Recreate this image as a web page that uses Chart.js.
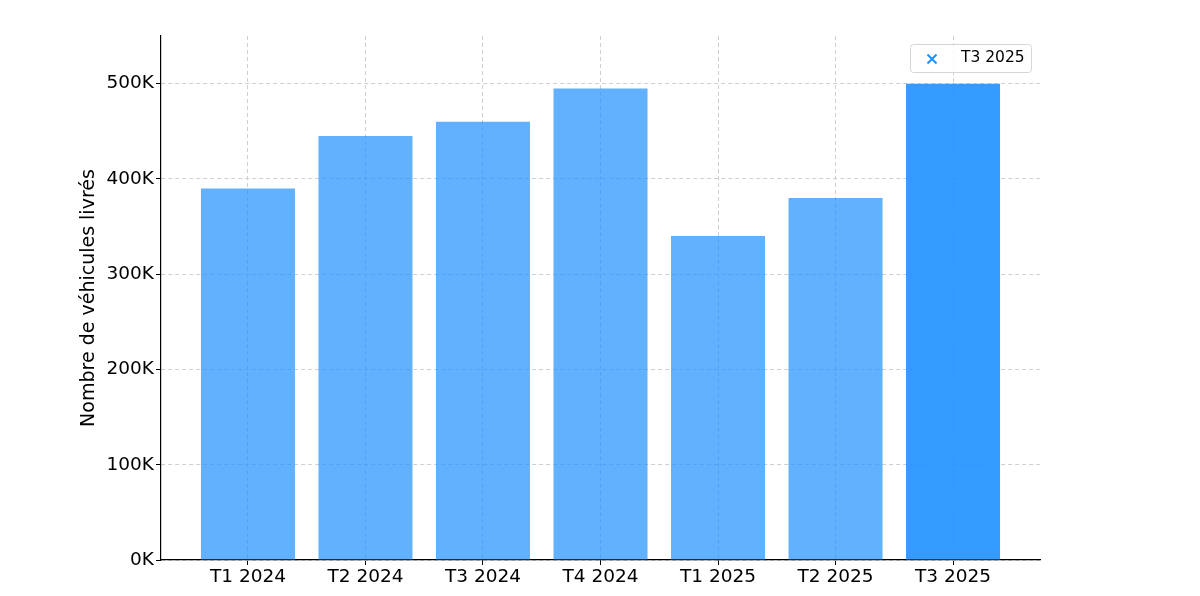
<!DOCTYPE html>
<html>
<head>
<meta charset="utf-8">
<script src="https://cdn.jsdelivr.net/npm/chart.js@4"></script>
<style>
  html, body { margin: 0; padding: 0; background: #fff; }
  #wrap { width: 1200px; height: 596px; }
</style>
</head>
<body>
<div id="wrap"><canvas id="chart-livraisons"></canvas></div>
<script>
"use strict"

// trimestres et livraisons (véhicules)
var trimestres = ['T1 2024', 'T2 2024', 'T3 2024', 'T4 2024', 'T1 2025', 'T2 2025', 'T3 2025']
var livraisons = [390000, 445000, 460000, 495000, 340000, 380000, 500000]
var yTicks = [0, 100000, 200000, 300000, 400000, 500000]
var legende = 'T3 2025'

var bleu = 'rgba(30,144,255,0.7)'
var bleuFort = 'rgba(30,144,255,0.9)'
var police = "'DejaVu Sans', sans-serif"

Chart.defaults.font.family = police
Chart.defaults.color = '#000'

// petite légende encadrée en haut à droite
var legendeBox = {
    id: 'legendeBox',
    afterDraw: function (chart) {
        var c = chart.ctx
        var a = chart.chartArea
        var x = a.right - 130, y = a.top + 8, w = 121, h = 28
        c.save()
        c.fillStyle = 'rgba(255,255,255,0.85)'
        c.strokeStyle = '#d6d6d6'
        c.lineWidth = 1
        c.beginPath()
        c.roundRect(x + 0.5, y + 0.5, w, h, 3)
        c.fill()
        c.stroke()
        var mx = x + 22, my = y + h / 2 + 1
        c.strokeStyle = 'rgb(30,144,255)'
        c.lineWidth = 2
        c.beginPath()
        c.moveTo(mx - 4.5, my - 4.5); c.lineTo(mx + 4.5, my + 4.5)
        c.moveTo(mx + 4.5, my - 4.5); c.lineTo(mx - 4.5, my + 4.5)
        c.stroke()
        c.fillStyle = '#000'
        c.font = '15.5px ' + police
        c.textBaseline = 'middle'
        c.fillText(legende, x + 51, y + h / 2)
        c.restore()
    }
}

var ctx = document.getElementById('chart-livraisons').getContext('2d')
var chartLivraisons = new Chart(ctx, {
    type: 'bar',
    data: {
        datasets: [{
            label: legende,
            data: livraisons.map(function (v, i) { return { x: i, y: v } }),
            backgroundColor: livraisons.map(function (v, i) {
                return i === livraisons.length - 1 ? bleuFort : bleu
            }),
            borderWidth: 0,
            categoryPercentage: 1,
            barPercentage: 0.8
        }]
    },
    options: {
        responsive: true,
        maintainAspectRatio: false,
        animation: false,
        layout: {
            padding: { left: 78, top: 36, right: 160, bottom: 0 }
        },
        plugins: {
            tooltip: { enabled: false },
            legend: { display: false }
        },
        scales: {
            x: {
                type: 'linear',
                offset: false,
                min: -0.74,
                max: 6.74,
                afterBuildTicks: function (axis) {
                    axis.ticks = trimestres.map(function (t, i) { return { value: i } })
                },
                afterFit: function (axis) { axis.height = 36 },
                ticks: {
                    font: { size: 18.5 },
                    padding: 1,
                    callback: function (v) { return trimestres[v] }
                },
                grid: {
                    offset: false,
                    color: '#cfcfcf',
                    tickColor: '#000',
                    tickLength: 5,
                    tickBorderDash: []
                },
                border: { color: '#000', width: 1.2, dash: [4, 3] }
            },
            y: {
                min: 0,
                max: 550000,
                afterBuildTicks: function (axis) {
                    axis.ticks = yTicks.map(function (v) { return { value: v } })
                },
                afterFit: function (axis) { axis.width = 83 },
                ticks: {
                    font: { size: 18.5 },
                    padding: 2,
                    callback: function (v) { return (v / 1000) + 'K' }
                },
                grid: {
                    color: '#cfcfcf',
                    tickColor: '#000',
                    tickLength: 5,
                    tickBorderDash: []
                },
                border: { color: '#000', width: 1.2, dash: [4, 3] },
                title: {
                    display: true,
                    text: 'Nombre de véhicules livrés',
                    font: { size: 19 },
                    padding: { top: 0, bottom: 0 }
                }
            }
        }
    },
    plugins: [legendeBox]
})
</script>
</body>
</html>
